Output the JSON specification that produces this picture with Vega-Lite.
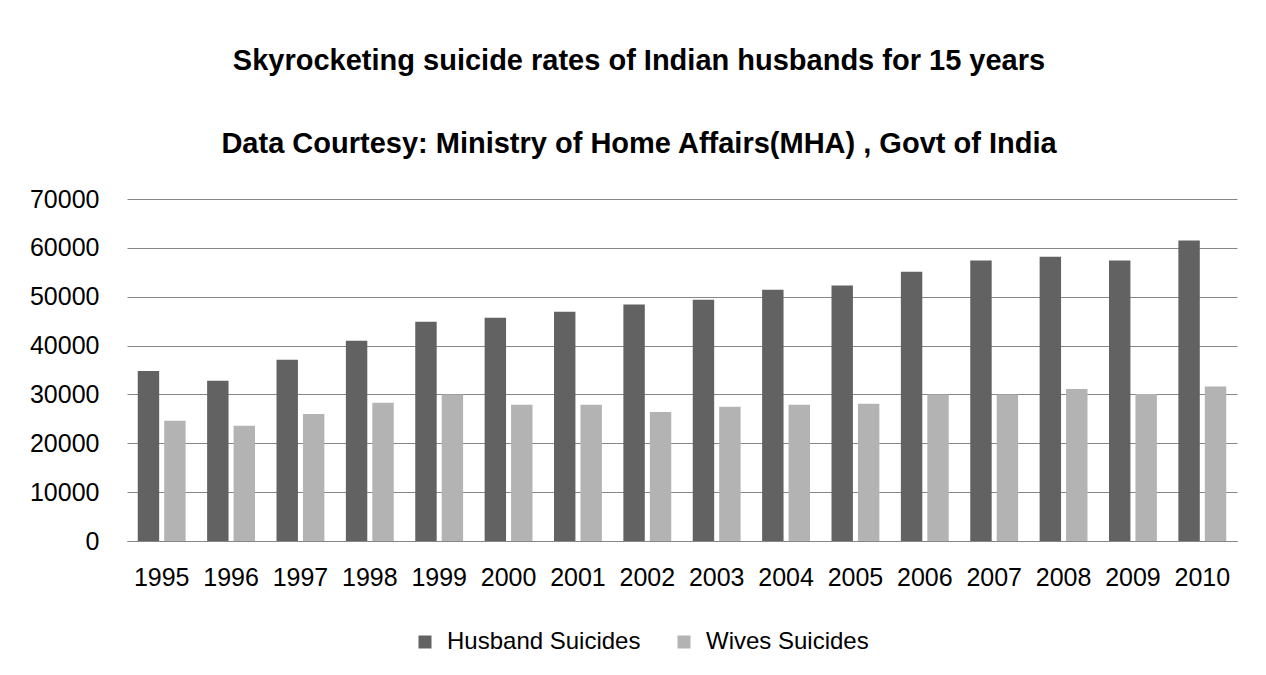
{
  "$schema": "https://vega.github.io/schema/vega-lite/v6.json",
  "width": 1110,
  "height": 342,
  "autosize": "none",
  "padding": {"left": 127, "top": 199, "right": 29, "bottom": 134},
  "background": "white",
  "title": {
    "text": ["Skyrocketing suicide rates of Indian husbands  for 15 years", "Data Courtesy: Ministry of Home Affairs(MHA) , Govt of India"],
    "font": "Liberation Sans",
    "fontSize": 29,
    "fontWeight": "bold",
    "color": "#000000",
    "anchor": "middle",
    "frame": "group",
    "dx": -43,
    "lineHeight": 83,
    "offset": 28
  },
  "data": {
    "values": [
      {"year": "1995", "series": "Husband Suicides", "value": 34800},
      {"year": "1995", "series": "Wives Suicides", "value": 24600},
      {"year": "1996", "series": "Husband Suicides", "value": 32800},
      {"year": "1996", "series": "Wives Suicides", "value": 23600},
      {"year": "1997", "series": "Husband Suicides", "value": 37100},
      {"year": "1997", "series": "Wives Suicides", "value": 26000},
      {"year": "1998", "series": "Husband Suicides", "value": 41000},
      {"year": "1998", "series": "Wives Suicides", "value": 28300},
      {"year": "1999", "series": "Husband Suicides", "value": 44900},
      {"year": "1999", "series": "Wives Suicides", "value": 30000},
      {"year": "2000", "series": "Husband Suicides", "value": 45700},
      {"year": "2000", "series": "Wives Suicides", "value": 27900},
      {"year": "2001", "series": "Husband Suicides", "value": 46900},
      {"year": "2001", "series": "Wives Suicides", "value": 27900},
      {"year": "2002", "series": "Husband Suicides", "value": 48400},
      {"year": "2002", "series": "Wives Suicides", "value": 26400},
      {"year": "2003", "series": "Husband Suicides", "value": 49400},
      {"year": "2003", "series": "Wives Suicides", "value": 27500},
      {"year": "2004", "series": "Husband Suicides", "value": 51400},
      {"year": "2004", "series": "Wives Suicides", "value": 27900},
      {"year": "2005", "series": "Husband Suicides", "value": 52300},
      {"year": "2005", "series": "Wives Suicides", "value": 28100},
      {"year": "2006", "series": "Husband Suicides", "value": 55100},
      {"year": "2006", "series": "Wives Suicides", "value": 30000},
      {"year": "2007", "series": "Husband Suicides", "value": 57400},
      {"year": "2007", "series": "Wives Suicides", "value": 30000},
      {"year": "2008", "series": "Husband Suicides", "value": 58200},
      {"year": "2008", "series": "Wives Suicides", "value": 31100},
      {"year": "2009", "series": "Husband Suicides", "value": 57400},
      {"year": "2009", "series": "Wives Suicides", "value": 30100},
      {"year": "2010", "series": "Husband Suicides", "value": 61500},
      {"year": "2010", "series": "Wives Suicides", "value": 31600}
    ]
  },
  "mark": {"type": "bar"},
  "encoding": {
    "x": {
      "field": "year",
      "type": "ordinal",
      "scale": {"paddingInner": 0.31, "paddingOuter": 0.155},
      "axis": {
        "title": null,
        "labelAngle": 0,
        "labelFont": "Liberation Sans",
        "labelFontSize": 25,
        "labelColor": "#000000",
        "labelPadding": 24,
        "ticks": false,
        "domain": true,
        "domainColor": "#868686",
        "domainWidth": 1,
        "grid": false
      }
    },
    "xOffset": {
      "field": "series",
      "type": "nominal",
      "scale": {"paddingInner": 0.19, "paddingOuter": 0}
    },
    "y": {
      "field": "value",
      "type": "quantitative",
      "scale": {"domain": [0, 70000], "nice": false},
      "axis": {
        "title": null,
        "values": [0, 10000, 20000, 30000, 40000, 50000, 60000, 70000],
        "format": "d",
        "labelFont": "Liberation Sans",
        "labelFontSize": 25,
        "labelColor": "#000000",
        "labelPadding": 28,
        "ticks": false,
        "domain": false,
        "grid": true,
        "gridColor": "#868686",
        "gridWidth": 1
      }
    },
    "color": {
      "field": "series",
      "type": "nominal",
      "scale": {"domain": ["Husband Suicides", "Wives Suicides"], "range": ["#626262", "#b3b3b3"]},
      "legend": {
        "title": null,
        "orient": "none",
        "legendX": 286,
        "legendY": 431,
        "direction": "horizontal",
        "symbolType": "square",
        "symbolSize": 169,
        "symbolStrokeWidth": 0,
        "labelFont": "Liberation Sans",
        "labelFontSize": 24,
        "labelColor": "#000000",
        "labelOffset": 10,
        "labelLimit": 400,
        "columnPadding": 31
      }
    }
  },
  "config": {
    "view": {"stroke": null}
  }
}
